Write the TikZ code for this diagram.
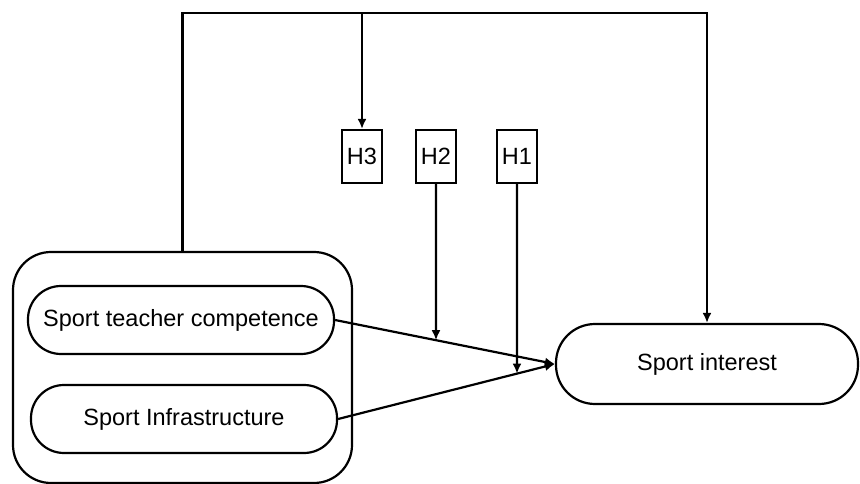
\documentclass[tikz,border=0pt]{standalone}
\usepackage{fontspec}
\setmainfont{Liberation Sans}
\usetikzlibrary{arrows.meta,intersections,calc}
\begin{document}
\begin{tikzpicture}[x=1pt,y=-1pt,
  line width=2.2pt,
  arr/.style={-{Latex[length=10pt,width=9pt]}},
  pill/.style={draw,rounded corners=33pt,minimum height=68pt,inner sep=0pt,font=\fontsize{23.5}{27}\selectfont},
  hbox/.style={draw,minimum width=40pt,minimum height=53pt,inner sep=0pt,font=\fontsize{23.5}{27}\selectfont}]
\useasboundingbox (0,0) rectangle (860,484);
\node[draw,rounded corners=38pt,minimum width=339pt,minimum height=231pt] (outer) at (182.5,367.5) {};
\node[pill,minimum width=306pt] (T) at (181,320) {Sport teacher competence};
\node[pill,minimum width=306pt] (I) at (184,419) {Sport Infrastructure};
\node[pill,minimum width=302pt,minimum height=80pt,rounded corners=39pt] (SI) at (707,364) {Sport interest};
\node[hbox] (H3) at (362,156.5) {H3};
\node[hbox] (H2) at (436,156.5) {H2};
\node[hbox] (H1) at (517,156.5) {H1};
\coordinate (top) at (0,13);
\draw[arr] (outer.north) -- (outer.north |- top) -| (SI.north);
\draw[arr] (H3.north |- top) -- (H3.north);
\draw[arr,name path=l1] (T.east) -- (SI.west);
\draw[arr,name path=l2] (I.east) -- (SI.west);
\path[name path=v2] (H2.south) -- ++(0,250);
\path[name path=v1] (H1.south) -- ++(0,250);
\path[name intersections={of=l1 and v2,by=p2}];
\path[name intersections={of=l2 and v1,by=p1}];
\draw[arr] (H2.south) -- (p2);
\draw[arr] (H1.south) -- (p1);
\end{tikzpicture}
\end{document}
